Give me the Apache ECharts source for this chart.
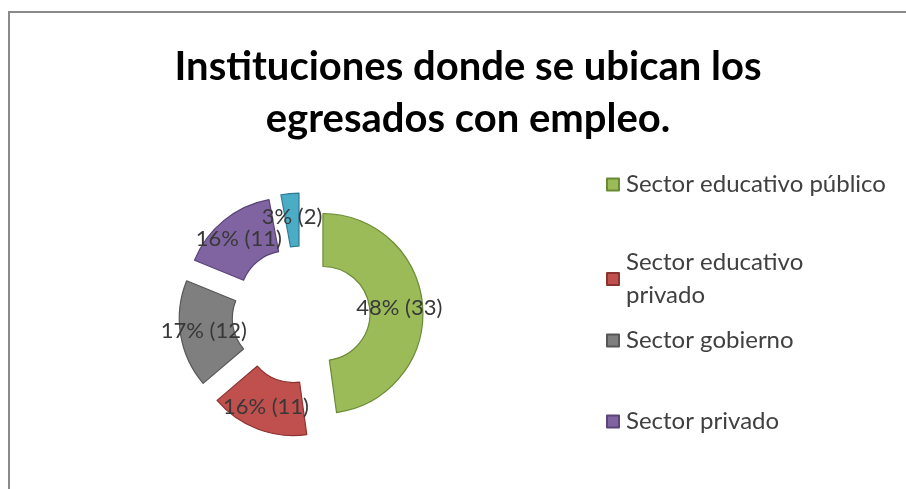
<!DOCTYPE html>
<html><head><meta charset="utf-8">
<script src="https://cdn.jsdelivr.net/npm/echarts@6/dist/echarts.min.js"></script>
<style>html,body{margin:0;padding:0;background:#fff}#c{width:906px;height:489px}</style>
</head><body><div id="c"></div>
<script>
const categories = ['Sector educativo público','Sector educativo privado','Sector gobierno','Sector privado','Otro'];
const values = [33, 11, 12, 11, 2];
const colors = ['#9BBB59','#C0504D','#7F7F7F','#8064A2','#4BACC6'];
const borders = ['#6b8a35','#8c3331','#575757','#5a4478','#2f7d93'];
const legendNames = ['Sector educativo público','Sector educativo privado','Sector gobierno','Sector privado'];
const legendTops = [163, 241, 319, 400];
const total = values.reduce((a,b)=>a+b,0);
const chart = echarts.init(document.getElementById('c'));
const font = 'Lato, "Open Sans", sans-serif';
chart.setOption({
  animation: false,
  title: {
    text: 'Instituciones donde se ubican los\negresados con empleo.',
    left: 463, top: 36, textAlign: 'center',
    textStyle: {fontFamily: font, fontWeight: 'bold', fontSize: 40, lineHeight: 52, color: '#000'}
  },
  graphic: [{type:'rect', shape:{x:9, y:12, width:1000, height:1000}, style:{fill:'none', stroke:'#8a8a8a', lineWidth:2}, silent:true}],
  legend: legendNames.map((n,i)=>({
    data: [n], left: 601, top: legendTops[i], orient: 'vertical',
    icon: 'rect', itemWidth: 12, itemHeight: 12, itemGap: 4, selectedMode: false,
    formatter: name => name === 'Sector educativo privado' ? 'Sector educativo\nprivado' : name,
    textStyle: {fontFamily: font, fontSize: 24, lineHeight: 33, color: '#404040', padding:[0,0,0,2]}
  })),
  series: [{
    type: 'pie',
    center: [301, 315],
    radius: [47, 100],
    startAngle: 90,
    clockwise: true,
    selectedMode: 'multiple',
    selectedOffset: 22,
    avoidLabelOverlap: false,
    emphasis: {disabled: true},
    labelLayout: {hideOverlap: false},
    label: {
      show: true, position: 'inner',
      formatter: p => Math.round(p.value/total*100) + '% (' + p.value + ')',
      fontFamily: font, fontSize: 22, color: '#383838'
    },
    labelLine: {show: false},
    data: categories.map((c,i)=>({
      name: c, value: values[i], selected: true,
      itemStyle: {color: colors[i], borderColor: borders[i], borderWidth: 1.2}
    }))
  }]
});
</script></body></html>
